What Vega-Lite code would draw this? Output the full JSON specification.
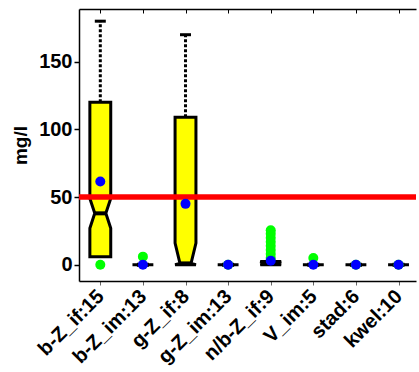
{
  "$schema": "https://vega.github.io/schema/vega-lite/v6.json",
  "autosize": {"type": "fit", "contains": "padding"},
  "padding": {"left": 11, "top": 8, "right": 0, "bottom": 5},
  "width": 419,
  "height": 372,
  "background": "white",
  "datasets": {
    "stats": [
      {"cat": "b-Z_if:15", "i": 1, "q1": 6, "nlo": 27, "med": 38, "nhi": 49, "q3": 120, "whi": 180, "mean": 61.5},
      {"cat": "b-Z_im:13", "i": 2, "q1": 0, "nlo": null, "med": 0, "nhi": null, "q3": 0, "whi": 0, "mean": 0},
      {"cat": "g-Z_if:8", "i": 3, "q1": 0, "nlo": null, "med": 1, "nhi": 16, "q3": 109, "whi": 170, "mean": 45},
      {"cat": "g-Z_im:13", "i": 4, "q1": 0, "nlo": null, "med": 0, "nhi": null, "q3": 0, "whi": 0, "mean": 0},
      {"cat": "n/b-Z_if:9", "i": 5, "q1": 0, "nlo": null, "med": 1, "nhi": null, "q3": 2.5, "whi": 2.5, "mean": 3},
      {"cat": "V_im:5", "i": 6, "q1": 0, "nlo": null, "med": 0, "nhi": null, "q3": 0, "whi": 0, "mean": 0},
      {"cat": "stad:6", "i": 7, "q1": 0, "nlo": null, "med": 0, "nhi": null, "q3": 0, "whi": 0, "mean": 0},
      {"cat": "kwel:10", "i": 8, "q1": 0, "nlo": null, "med": 0, "nhi": null, "q3": 0, "whi": 0, "mean": 0}
    ],
    "pts": [
      {"cat": "b-Z_if:15", "v": 0},
      {"cat": "b-Z_im:13", "v": 6},
      {"cat": "g-Z_im:13", "v": 0},
      {"cat": "n/b-Z_if:9", "v": 5},
      {"cat": "n/b-Z_if:9", "v": 8},
      {"cat": "n/b-Z_if:9", "v": 11},
      {"cat": "n/b-Z_if:9", "v": 14},
      {"cat": "n/b-Z_if:9", "v": 17},
      {"cat": "n/b-Z_if:9", "v": 20},
      {"cat": "n/b-Z_if:9", "v": 23},
      {"cat": "n/b-Z_if:9", "v": 25.5},
      {"cat": "V_im:5", "v": 5},
      {"cat": "stad:6", "v": 0},
      {"cat": "kwel:10", "v": 0}
    ]
  },
  "config": {
    "view": {"stroke": null},
    "axis": {
      "labelFont": "Liberation Sans", "labelFontWeight": "bold", "labelFontSize": 20, "labelColor": "black",
      "titleFont": "Liberation Sans", "titleFontWeight": "bold", "titleFontSize": 19, "titleColor": "black",
      "domainColor": "black", "domainWidth": 1.5, "tickColor": "black", "grid": false
    }
  },
  "resolve": {"axis": {"x": "independent"}},
  "layer": [
    {
      "data": {"name": "stats"},
      "transform": [
        {"fold": ["q1", "nlo", "med", "nhi", "q3"], "as": ["k", "yv"]},
        {"filter": "isValid(datum.yv)"},
        {"calculate": "datum.k == 'med' ? 0.13 : 0.245", "as": "hw"},
        {"calculate": "datum.i - datum.hw", "as": "xl"},
        {"calculate": "datum.i + datum.hw", "as": "xr"}
      ],
      "mark": {"type": "area", "orient": "horizontal", "fill": "#FFFF00", "stroke": "black", "strokeWidth": 3, "strokeCap": "round", "opacity": 1, "fillOpacity": 1},
      "encoding": {
        "x": {"field": "xl", "type": "quantitative", "stack": null, "scale": {"domain": [0.5, 8.41], "nice": false, "zero": false},
              "axis": {"orient": "bottom", "title": null, "values": [1,2,3,4,5,6,7,8], "tickSize": 4, "tickColor": "#666", "tickWidth": 1,
                       "labelAngle": -45, "labelAlign": "right", "labelBaseline": "middle", "labelPadding": 8,
                       "labelOverlap": false, "labelFlush": false, "labelBound": false,
                       "labelFont": "Liberation Sans", "labelFontWeight": "bold", "labelFontSize": 20, "labelColor": "black",
                       "labelExpr": "['b-Z_if:15','b-Z_im:13','g-Z_if:8','g-Z_im:13','n/b-Z_if:9','V_im:5','stad:6','kwel:10'][datum.value-1]"}},
        "x2": {"field": "xr"},
        "y": {"field": "yv", "type": "quantitative", "scale": {"domain": [-12, 189], "nice": false, "zero": false},
              "axis": {"title": "mg/l", "values": [0, 50, 100, 150], "tickSize": 5, "tickWidth": 1.5, "labelPadding": 2, "titlePadding": 8,
                       "labelOverlap": false, "labelFlush": false,
                       "labelFont": "Liberation Sans", "labelFontWeight": "bold", "labelFontSize": 20, "labelColor": "black",
                       "titleFont": "Liberation Sans", "titleFontWeight": "bold", "titleFontSize": 19, "titleColor": "black"}},
        "detail": {"field": "cat", "type": "nominal"}
      }
    },
    {
      "data": {"name": "stats"},
      "mark": {"type": "rule", "strokeWidth": 3, "strokeDash": [3, 2], "color": "black"},
      "encoding": {
        "x": {"field": "i", "type": "quantitative", "scale": {"domain": [0.5, 8.41], "nice": false, "zero": false},
              "axis": {"orient": "top", "labels": false, "title": null, "values": [1,2,3,4,5,6,7,8], "tickSize": -4, "tickWidth": 1, "domainWidth": 1.5}},
        "y": {"field": "q3", "type": "quantitative", "scale": {"domain": [-12, 189], "nice": false, "zero": false}, "title": "mg/l"},
        "y2": {"field": "whi"}
      }
    },
    {
      "data": {"name": "stats"},
      "mark": {"type": "tick", "orient": "horizontal", "size": 11, "thickness": 3, "color": "black", "opacity": 1},
      "encoding": {
        "x": {"field": "i", "type": "quantitative", "scale": {"domain": [0.5, 8.41], "nice": false, "zero": false}, "axis": null},
        "y": {"field": "whi", "type": "quantitative", "scale": {"domain": [-12, 189], "nice": false, "zero": false}, "title": "mg/l"}
      }
    },
    {
      "data": {"name": "stats"},
      "mark": {"type": "tick", "orient": "horizontal", "size": 12, "thickness": 4, "color": "black", "opacity": 1},
      "encoding": {
        "x": {"field": "i", "type": "quantitative", "scale": {"domain": [0.5, 8.41], "nice": false, "zero": false}, "axis": null},
        "y": {"field": "med", "type": "quantitative", "scale": {"domain": [-12, 189], "nice": false, "zero": false}, "title": "mg/l"}
      }
    },
    {
      "data": {"values": [{"ref": 50}]},
      "mark": {"type": "rule", "color": "#FF0000", "strokeWidth": 5.5},
      "encoding": {
        "y": {"field": "ref", "type": "quantitative", "scale": {"domain": [-12, 189], "nice": false, "zero": false}, "title": "mg/l"}
      }
    },
    {
      "data": {"name": "pts"},
      "transform": [
        {"lookup": "cat", "from": {"data": {"name": "stats"}, "key": "cat", "fields": ["i"]}}
      ],
      "mark": {"type": "circle", "color": "#00FF00", "size": 100, "opacity": 1},
      "encoding": {
        "x": {"field": "i", "type": "quantitative", "scale": {"domain": [0.5, 8.41], "nice": false, "zero": false}, "axis": null},
        "y": {"field": "v", "type": "quantitative", "scale": {"domain": [-12, 189], "nice": false, "zero": false}, "title": "mg/l"}
      }
    },
    {
      "data": {"name": "stats"},
      "mark": {"type": "circle", "color": "#0000FF", "size": 100, "opacity": 1},
      "encoding": {
        "x": {"field": "i", "type": "quantitative", "scale": {"domain": [0.5, 8.41], "nice": false, "zero": false}, "axis": null},
        "y": {"field": "mean", "type": "quantitative", "scale": {"domain": [-12, 189], "nice": false, "zero": false}, "title": "mg/l"}
      }
    }
  ]
}
